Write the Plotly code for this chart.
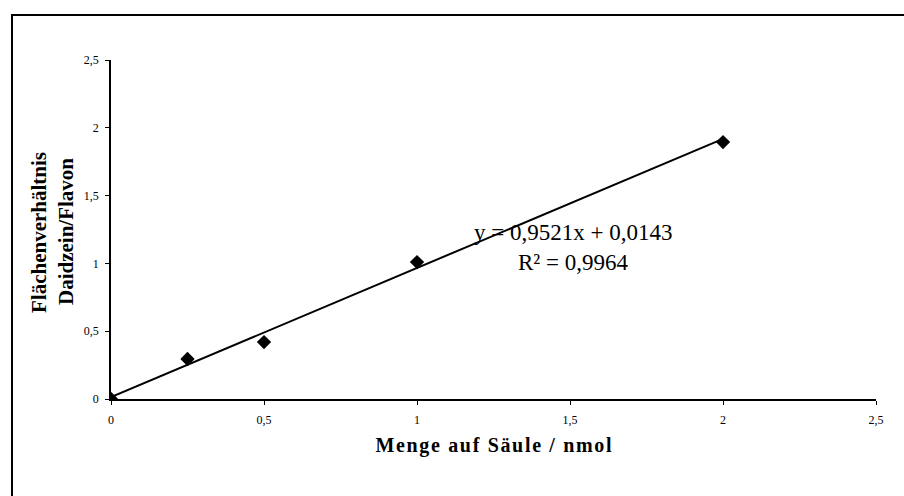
import plotly.graph_objects as go

# Data
menge = [0, 0.25, 0.5, 1, 2]
verhaeltnis = [0.0, 0.295, 0.42, 1.01, 1.895]
slope = 0.9521
intercept = 0.0143
r2 = 0.9964
tick_vals = [0, 0.5, 1, 1.5, 2, 2.5]

FONT = "Liberation Serif, Times New Roman, serif"
HS = "\u200a"

def spaced(s):
    return HS.join(list(s))

fit_x = [min(menge), max(menge)]
fit_y = [slope * v + intercept for v in fit_x]

fig = go.Figure()
fig.add_trace(go.Scatter(x=fit_x, y=fit_y, mode="lines",
                         line=dict(color="black", width=2), showlegend=False,
                         hoverinfo="skip"))
fig.add_trace(go.Scatter(x=menge, y=verhaeltnis, mode="markers",
                         marker=dict(symbol="diamond", size=11, color="black"),
                         showlegend=False))

L, R, T, B = 111, 28, 60, 97
W, H = 904, 496
pw, ph = W - L - R, H - T - B

axis_common = dict(range=[0, 2.5], tickvals=tick_vals, showgrid=False, zeroline=False,
                   showline=True, linecolor="black", linewidth=1.5,
                   ticks="outside", ticklen=4, tickcolor="black", tickwidth=1,
                   tickfont=dict(family=FONT, size=12, color="black"))

title_font = dict(family=FONT, size=20, color="black", weight="bold")
ytitle_font = dict(family=FONT, size=21, color="black", weight="bold")

fig.update_layout(
    width=W, height=H,
    margin=dict(l=L, r=R, t=T, b=B),
    paper_bgcolor="white", plot_bgcolor="white",
    separators=",.",
    xaxis=dict(**axis_common, ticklabelstandoff=5,
               title=dict(text=spaced("Menge auf Säule / nmol"),
                          font=title_font, standoff=12)),
    yaxis=dict(**axis_common, ticklabelstandoff=4),
    annotations=[
        dict(x=(39 - L) / pw, y=(H - B - 233) / ph, xref="paper", yref="paper",
             text="Flächenverhältnis", showarrow=False, textangle=-90,
             font=ytitle_font, xanchor="center", yanchor="middle"),
        dict(x=(66 - L) / pw, y=(H - B - 232) / ph, xref="paper", yref="paper",
             text="Daidzein/Flavon", showarrow=False, textangle=-90,
             font=ytitle_font, xanchor="center", yanchor="middle"),
        dict(x=(573 - L) / pw, y=(H - B - 232) / ph, xref="paper", yref="paper",
             text="y = 0,9521x + 0,0143", showarrow=False,
             font=dict(family=FONT, size=23, color="black"), xanchor="center", yanchor="middle"),
        dict(x=(573 - L) / pw, y=(H - B - 262) / ph, xref="paper", yref="paper",
             text="R² = 0,9964", showarrow=False,
             font=dict(family=FONT, size=23, color="black"), xanchor="center", yanchor="middle"),
    ],
    shapes=[
        dict(type="rect", xref="paper", yref="paper",
             x0=(12 - L) / pw, x1=(W + 10 - L) / pw,
             y0=(H - B - (H + 10)) / ph, y1=(H - B - 15) / ph,
             line=dict(color="black", width=2), fillcolor="rgba(0,0,0,0)", layer="below"),
    ],
)

fig.write_html("out.html")
